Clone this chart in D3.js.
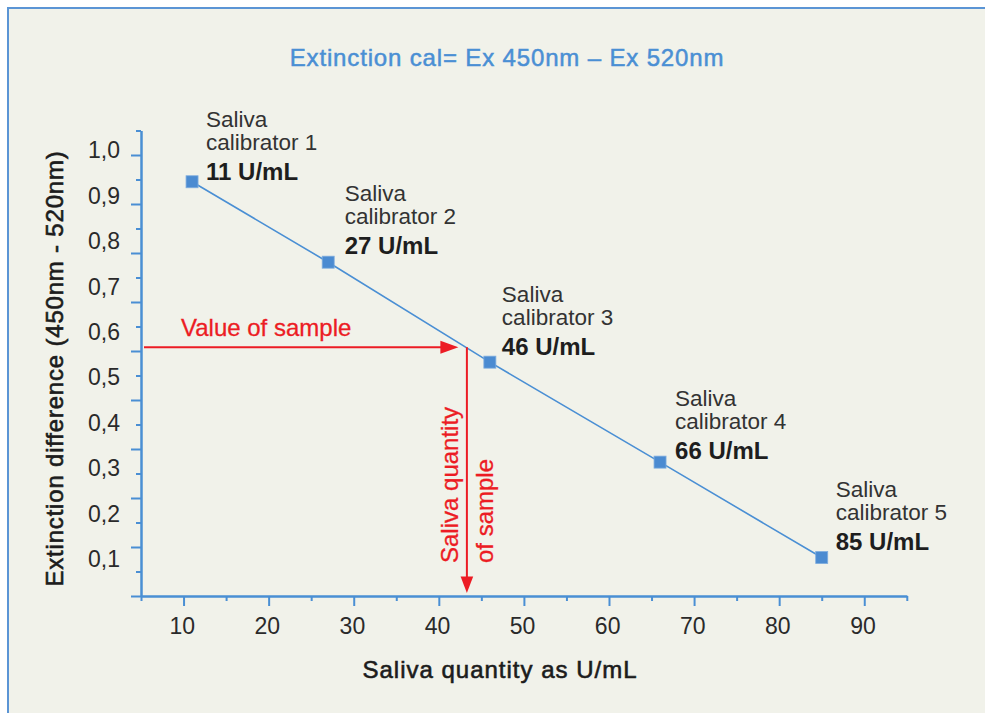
<!DOCTYPE html>
<html><head><meta charset="utf-8">
<script src="https://cdn.jsdelivr.net/npm/d3@7"></script>
<style>
html,body{margin:0;padding:0;background:#fff;}
svg{display:block;font-family:"Liberation Sans",Arial,Helvetica,sans-serif;}
</style>
</head><body>
<svg id="chart" width="985" height="713"></svg>
<script>
// ---------- data ----------
const calibratorNames = ["calibrator 1", "calibrator 2", "calibrator 3", "calibrator 4", "calibrator 5"];
const concentrations = [11, 27, 46, 66, 85];          // U/mL
const extinctions = [0.929, 0.752, 0.532, 0.312, 0.102]; // 450nm - 520nm
const xTickValues = [10, 20, 30, 40, 50, 60, 70, 80, 90];
const yTickValues = [0.1, 0.2, 0.3, 0.4, 0.5, 0.6, 0.7, 0.8, 0.9, 1.0];
const yTickLabels = ["0,1", "0,2", "0,3", "0,4", "0,5", "0,6", "0,7", "0,8", "0,9", "1,0"];
const sampleQuantity = 43.3;
const sampleExtinction = 0.565;

// ---------- layout (annotation placement) ----------
const labelOffsets = [
  {dx: 14, dy: -2}, {dx: 16.5, dy: -8}, {dx: 12, dy: -7}, {dx: 15, dy: -3}, {dx: 14, dy: -8}
];

const BLUE = "#4a8fd4", RED = "#ec1c24", TXT = "#2a2a2a";
const svg = d3.select("#chart");

// panel
svg.append("rect").attr("x", 8).attr("y", 8).attr("width", 1000).attr("height", 1000)
  .attr("fill", "#f1f2ea").attr("stroke", "#5b95d5").attr("stroke-width", 2);

// scales
const x = d3.scaleLinear().domain([5, 95]).range([141, 906.8]);
const y = d3.scaleLinear().domain([0, 1]).range([603.9, 149.5]);          // values & labels
const yMarks = d3.scaleLinear().domain([0, 0.95]).range([596, 130.5]);    // axis tick marks
const axisY0 = yMarks(0);

function styleAxis(g) {
  g.selectAll("path,line").attr("stroke", BLUE).attr("stroke-width", 2);
  g.selectAll("text").remove();
}

// y axis: minor + major marks
const minorY = d3.range(0, 19).map(i => i * 0.05).filter((d, i) => i % 2 === 1);
minorY.push(0.95);
const majorY = d3.range(0, 10).map(i => i * 0.1);
svg.append("g").attr("transform", `translate(${x(5)},0)`)
  .call(d3.axisLeft(yMarks).tickValues(minorY).tickSize(5).tickSizeOuter(0)).call(styleAxis);
svg.append("g").attr("transform", `translate(${x(5)},0)`)
  .call(d3.axisLeft(yMarks).tickValues(majorY).tickSize(10).tickSizeOuter(0)).call(styleAxis);

// y tick labels
const gyl = svg.append("g").attr("transform", `translate(${x(5)},0)`)
  .call(d3.axisLeft(y).tickValues(yTickValues).tickSize(0).tickPadding(21)
    .tickFormat((d, i) => yTickLabels[i]));
gyl.select(".domain").remove();
gyl.selectAll("text").attr("font-size", 23).attr("font-family", null).attr("fill", TXT).attr("dy", "0.36em");

// x axis
const minorX = d3.range(5, 96, 10);
svg.append("g").attr("transform", `translate(0,${axisY0})`)
  .call(d3.axisBottom(x).tickValues(minorX).tickSize(5).tickSizeOuter(0)).call(styleAxis);
const gx = svg.append("g").attr("transform", `translate(0,${axisY0})`)
  .call(d3.axisBottom(x).tickValues(xTickValues).tickSize(10).tickSizeOuter(0).tickPadding(11.5));
gx.selectAll("path,line").attr("stroke", BLUE).attr("stroke-width", 2);
gx.selectAll("text").attr("font-size", 23).attr("font-family", null).attr("fill", TXT).attr("dx", "-0.08em");

// data
const pts = concentrations.map((c, i) => ({c, e: extinctions[i], name: calibratorNames[i], off: labelOffsets[i]}));

svg.append("path").datum(pts)
  .attr("d", d3.line().x(d => x(d.c)).y(d => y(d.e)))
  .attr("fill", "none").attr("stroke", BLUE).attr("stroke-width", 1.6);

svg.selectAll("rect.pt").data(pts).join("rect").attr("class", "pt")
  .attr("x", d => x(d.c) - 6).attr("y", d => y(d.e) - 6).attr("width", 12).attr("height", 12)
  .attr("fill", "#4b8bd1").attr("stroke", "#7fadde").attr("stroke-width", 0.8);

const lab = svg.selectAll("g.lab").data(pts).join("g").attr("class", "lab")
  .attr("transform", d => `translate(${x(d.c) + d.off.dx},${y(d.e) + d.off.dy})`);
lab.append("text").attr("y", -53).attr("font-size", 22.5).attr("fill", "#333").text("Saliva");
lab.append("text").attr("y", -30).attr("font-size", 22.5).attr("fill", "#333").text(d => d.name);
lab.append("text").attr("y", 0).attr("font-size", 24).attr("font-weight", "bold").attr("fill", "#1e1e1e")
  .text(d => d.c + " U/mL");

// sample arrows
const sx = x(sampleQuantity), sy = y(sampleExtinction);
const hStart = x(5) + 3, hTip = sx - 8.5;
svg.append("line").attr("x1", hStart).attr("x2", hTip - 15).attr("y1", sy).attr("y2", sy)
  .attr("stroke", RED).attr("stroke-width", 2);
svg.append("path").attr("d", `M${hTip},${sy}L${hTip - 18},${sy - 6.5}L${hTip - 18},${sy + 6.5}Z`).attr("fill", RED);
const vTip = axisY0 - 3;
svg.append("line").attr("x1", sx).attr("x2", sx).attr("y1", sy).attr("y2", vTip - 14)
  .attr("stroke", RED).attr("stroke-width", 2);
svg.append("path").attr("d", `M${sx},${vTip}L${sx - 6.3},${vTip - 16.5}L${sx + 6.3},${vTip - 16.5}Z`).attr("fill", RED);

svg.append("text").attr("x", hStart + 37).attr("y", sy - 11).attr("font-size", 24)
  .attr("fill", RED).attr("stroke", RED).attr("stroke-width", 0.3).text("Value of sample");
svg.append("text").attr("transform", `translate(${sx - 9},${vTip - 30}) rotate(-90)`).attr("font-size", 24)
  .attr("fill", RED).attr("stroke", RED).attr("stroke-width", 0.3).text("Saliva quantity");
svg.append("text").attr("transform", `translate(${sx + 26.5},${vTip - 30}) rotate(-90)`).attr("font-size", 24)
  .attr("fill", RED).attr("stroke", RED).attr("stroke-width", 0.3).text("of sample");

// titles
svg.append("text").attr("x", 507).attr("y", 66).attr("text-anchor", "middle").attr("font-size", 24)
  .attr("fill", BLUE).attr("stroke", BLUE).attr("stroke-width", 0.5).attr("letter-spacing", 0.85)
  .text("Extinction cal= Ex 450nm \u2013 Ex 520nm");
svg.append("text").attr("x", 500).attr("y", 678).attr("text-anchor", "middle").attr("font-size", 24)
  .attr("fill", "#1c1c1c").attr("stroke", "#1c1c1c").attr("stroke-width", 0.6).attr("letter-spacing", 1)
  .text("Saliva quantity as U/mL");
svg.append("text").attr("transform", "translate(63,368.5) rotate(-90)").attr("text-anchor", "middle").attr("font-size", 24)
  .attr("fill", "#1c1c1c").attr("stroke", "#1c1c1c").attr("stroke-width", 0.6).attr("letter-spacing", 0.8)
  .text("Extinction difference (450nm - 520nm)");
</script>
</body></html>
